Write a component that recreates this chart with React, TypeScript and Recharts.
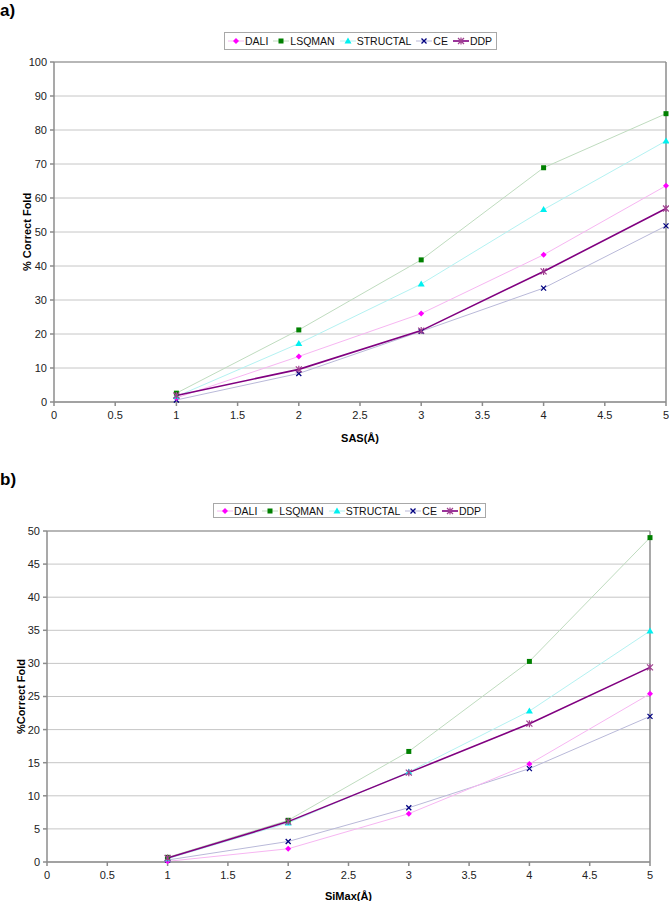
import React from 'react';
import {
  LineChart,
  Line,
  XAxis,
  YAxis,
  CartesianGrid,
  Legend,
  Label,
  ReferenceLine,
} from 'recharts';

const xValues = [1, 2, 3, 4, 5];
const xTicks = [0, 0.5, 1, 1.5, 2, 2.5, 3, 3.5, 4, 4.5, 5];
const yTicksA = [0, 10, 20, 30, 40, 50, 60, 70, 80, 90, 100];
const yTicksB = [0, 5, 10, 15, 20, 25, 30, 35, 40, 45, 50];

// panel a) SAS
const daliA = [1.2, 13.4, 26.0, 43.3, 63.6];
const lsqmanA = [2.6, 21.2, 41.8, 68.9, 84.8];
const structalA = [1.6, 17.2, 34.7, 56.6, 76.8];
const ceA = [0.6, 8.4, 20.8, 33.5, 51.8];
const ddpA = [1.9, 9.6, 21.0, 38.4, 56.9];

// panel b) SiMax
const daliB = [0.1, 2.0, 7.3, 14.8, 25.4];
const lsqmanB = [0.7, 6.3, 16.7, 30.3, 49.0];
const structalB = [0.5, 5.9, 13.6, 22.8, 34.9];
const ceB = [0.3, 3.1, 8.2, 14.1, 22.0];
const ddpB = [0.6, 6.1, 13.5, 20.9, 29.4];

const seriesNames = ['DALI', 'LSQMAN', 'STRUCTAL', 'CE', 'DDP'];

const FONT = '"Liberation Sans", Arial, sans-serif';
const AXIS = '#8c8c8c';

type Shape = 'diamond' | 'square' | 'triangle' | 'x' | 'star';

const styles: Record<string, { line: string; marker: string; shape: Shape; width: number }> = {
  DALI: { line: '#f7b6f2', marker: '#ff00ff', shape: 'diamond', width: 1 },
  LSQMAN: { line: '#bfdcbf', marker: '#008000', shape: 'square', width: 1 },
  STRUCTAL: { line: '#b4f2f2', marker: '#00f0f0', shape: 'triangle', width: 1 },
  CE: { line: '#b9b9d9', marker: '#000080', shape: 'x', width: 1 },
  DDP: { line: '#800080', marker: '#a04090', shape: 'star', width: 1.6 },
};

function markerPath(shape: Shape, cx: number, cy: number, color: string, key?: string) {
  const r = 3;
  switch (shape) {
    case 'diamond':
      return <path key={key} d={`M${cx},${cy - r}L${cx + r},${cy}L${cx},${cy + r}L${cx - r},${cy}Z`} fill={color} />;
    case 'square':
      return <rect key={key} x={cx - 2.5} y={cy - 2.5} width={5} height={5} fill={color} />;
    case 'triangle':
      return <path key={key} d={`M${cx},${cy - 3.5}L${cx + 3.5},${cy + 2.5}L${cx - 3.5},${cy + 2.5}Z`} fill={color} />;
    case 'x':
      return (
        <path key={key} d={`M${cx - 2.5},${cy - 2.5}L${cx + 2.5},${cy + 2.5}M${cx - 2.5},${cy + 2.5}L${cx + 2.5},${cy - 2.5}`} stroke={color} strokeWidth={1.3} fill="none" />
      );
    default:
      return (
        <path key={key} d={`M${cx - 3},${cy - 3}L${cx + 3},${cy + 3}M${cx - 3},${cy + 3}L${cx + 3},${cy - 3}M${cx},${cy - 3.5}L${cx},${cy + 3.5}`} stroke={color} strokeWidth={1.2} fill="none" />
      );
  }
}

const makeDot = (name: string) => (props: any) => {
  const { cx, cy, index } = props;
  if (cx == null || cy == null) return <g key={`${name}-${index}`} />;
  return markerPath(styles[name].shape, cx, cy, styles[name].marker, `${name}-${index}`);
};

const LegendBox = ({ height }: { height: number }) => (
  <div
    style={{
      display: 'inline-flex',
      alignItems: 'center',
      border: '1px solid #a8a8a8',
      height,
      padding: '0 4px 0 3px',
      fontFamily: FONT,
      fontSize: 10.5,
      color: '#111',
      background: '#fff',
      whiteSpace: 'nowrap',
      boxSizing: 'border-box',
    }}
  >
    {seriesNames.map((n, i) => (
      <span key={n} style={{ display: 'inline-flex', alignItems: 'center', marginRight: i < seriesNames.length - 1 ? 5 : 0 }}>
        <svg width={16} height={10} style={{ marginRight: 1 }}>
          <line x1={0} y1={5} x2={16} y2={5} stroke={styles[n].line} strokeWidth={styles[n].width} />
          {markerPath(styles[n].shape, 8, 5, styles[n].marker)}
        </svg>
        <span>{n}</span>
      </span>
    ))}
  </div>
);

interface PanelProps {
  dali: number[];
  lsqman: number[];
  structal: number[];
  ce: number[];
  ddp: number[];
  yTicks: number[];
  yMax: number;
  xTitle: string;
  yTitle: string;
  yTitleX: number;
  height: number;
  margin: { top: number; right: number; left: number; bottom: number };
  yAxisWidth: number;
  xAxisHeight: number;
  legendLeft: number;
  legendTop: number;
  legendHeight: number;
}

function Panel(p: PanelProps) {
  const data = xValues.map((x, i) => ({
    x,
    DALI: p.dali[i],
    LSQMAN: p.lsqman[i],
    STRUCTAL: p.structal[i],
    CE: p.ce[i],
    DDP: p.ddp[i],
  }));

  const yTitleContent = (props: any) => {
    const vb = props.viewBox || {};
    const cy = (vb.y || 0) + (vb.height || 0) / 2;
    return (
      <text
        x={p.yTitleX}
        y={cy}
        transform={`rotate(-90 ${p.yTitleX} ${cy})`}
        textAnchor="middle"
        dominantBaseline="central"
        style={{ fontFamily: FONT, fontSize: 11, fontWeight: 'bold', fill: '#000' }}
      >
        {p.yTitle}
      </text>
    );
  };

  return (
    <LineChart width={669} height={p.height} data={data} margin={p.margin}>
      <CartesianGrid vertical={false} stroke="#c6c6c6" />
      <XAxis
        type="number"
        dataKey="x"
        domain={[0, 5]}
        ticks={xTicks}
        interval={0}
        height={p.xAxisHeight}
        stroke={AXIS}
        strokeWidth={1.5}
        tickSize={4}
        tickMargin={5}
        tick={{ fill: '#222', fontSize: 11, fontFamily: FONT }}
      >
        <Label
          value={p.xTitle}
          position="insideBottom"
          offset={0}
          style={{ fontFamily: FONT, fontSize: 11, fontWeight: 'bold', fill: '#000' }}
        />
      </XAxis>
      <YAxis
        type="number"
        domain={[0, p.yMax]}
        ticks={p.yTicks}
        interval={0}
        width={p.yAxisWidth}
        stroke={AXIS}
        strokeWidth={1.5}
        tickSize={4}
        tickMargin={3}
        tick={{ fill: '#222', fontSize: 11, fontFamily: FONT }}
      >
        <Label content={yTitleContent} />
      </YAxis>
      <ReferenceLine x={5} stroke={AXIS} strokeWidth={1.5} />
      <ReferenceLine y={p.yMax} stroke={AXIS} strokeWidth={1.2} />
      <Legend
        layout="horizontal"
        verticalAlign="middle"
        align="center"
        wrapperStyle={{ left: p.legendLeft, top: p.legendTop, width: 'auto', lineHeight: 0 }}
        content={() => <LegendBox height={p.legendHeight} />}
      />
      {['CE', 'DALI', 'STRUCTAL', 'LSQMAN', 'DDP'].map(n => (
        <Line
          key={n}
          type="linear"
          dataKey={n}
          stroke={styles[n].line}
          strokeWidth={styles[n].width}
          dot={makeDot(n)}
          activeDot={false}
          isAnimationActive={false}
        />
      ))}
    </LineChart>
  );
}

const panelLabel = (text: string, top: number) => (
  <div
    style={{
      position: 'absolute',
      left: 0,
      top,
      fontFamily: FONT,
      fontWeight: 'bold',
      fontSize: 17,
      lineHeight: '17px',
      color: '#000',
    }}
  >
    {text}
  </div>
);

export default function App() {
  return (
    <div style={{ position: 'absolute', left: 0, top: 0, width: 669, height: 901, background: '#fff', overflow: 'hidden' }}>
      <div style={{ position: 'absolute', left: 0, top: 0 }}>
        <Panel
          dali={daliA}
          lsqman={lsqmanA}
          structal={structalA}
          ce={ceA}
          ddp={ddpA}
          yTicks={yTicksA}
          yMax={100}
          xTitle="SAS(Å)"
          yTitle="% Correct Fold"
          yTitleX={27}
          height={460}
          margin={{ top: 62, right: 3, left: 0, bottom: 18 }}
          yAxisWidth={54}
          xAxisHeight={40}
          legendLeft={224}
          legendTop={32}
          legendHeight={18}
        />
      </div>
      <div style={{ position: 'absolute', left: 0, top: 460 }}>
        <Panel
          dali={daliB}
          lsqman={lsqmanB}
          structal={structalB}
          ce={ceB}
          ddp={ddpB}
          yTicks={yTicksB}
          yMax={50}
          xTitle="SiMax(Å)"
          yTitle="%Correct Fold"
          yTitleX={21}
          height={441}
          margin={{ top: 71, right: 19, left: 0, bottom: 1 }}
          yAxisWidth={47}
          xAxisHeight={38}
          legendLeft={213}
          legendTop={43}
          legendHeight={15}
        />
      </div>
      {panelLabel('a)', 2)}
      {panelLabel('b)', 471)}
    </div>
  );
}
